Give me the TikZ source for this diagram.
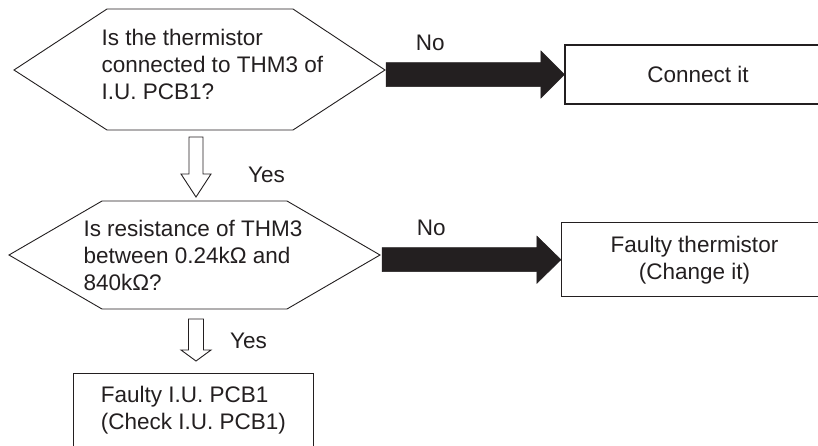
\documentclass[tikz,border=0pt]{standalone}
\usepackage{fontspec}
\setmainfont{Liberation Sans}
\usetikzlibrary{calc}
\definecolor{ink}{HTML}{231F20}
\begin{document}
\begin{tikzpicture}[x=1pt,y=-1pt,
  txt/.style={font=\fontsize{22.5}{27}\selectfont, text=ink, inner sep=0pt},
  hexline/.style={draw=ink, line width=0.9pt, line join=miter},
  box/.style={draw=ink, line width=1.1pt, fill=white, txt},
  bigarrow/.style={fill=ink, draw=ink, line width=0.5pt},
  downarrow/.style={fill=white, draw=ink, line width=0.9pt, line join=miter},
]
\useasboundingbox (0,0) rectangle (818,445);
\clip (0,0) rectangle (818,445);
\fill[white] (0,0) rectangle (818,445);

% first decision
\coordinate (h1l) at (14,70);
\coordinate (h1r) at (385,70);
\coordinate (h1b) at (196,130);
\draw[hexline] (h1l) -- (107,9) -- (293,9) -- (h1r) -- (293,130) -- (107,130) -- cycle;
\node[txt, anchor=base west, align=left] (q1) at (101.5,99)
  {Is the thermistor\\connected to THM3 of\\I.U. PCB1?};

% second decision
\coordinate (h2l) at (9,255);
\coordinate (h2r) at (380,255);
\coordinate (h2t) at (196,201);
\coordinate (h2b) at (196,309);
\draw[hexline] (h2l) -- (102,201) -- (287,201) -- (h2r) -- (287,309) -- (102,309) -- cycle;
\node[txt, anchor=base west, align=left] (q2) at (83.3,290)
  {Is resistance of THM3\\between 0.24kΩ and\\840kΩ?};

% result boxes
\node[box, minimum width=266pt, minimum height=59pt] (c1) at (698,74.5) {Connect it};
\node[box, align=center, minimum width=266pt, minimum height=74pt] (c2) at (694.5,259.7)
  {Faulty thermistor\\(Change it)};
\node[box, align=left, anchor=north, minimum width=240pt, text height=56pt, text depth=20pt] (c3) at (193.3,372.7)
  {Faulty I.U. PCB1\\(Check I.U. PCB1)};

% No arrows
\filldraw[bigarrow] let \p1=(h1r), \p2=(c1.west) in
  (\x1+1pt,\y2+12pt) -- (\x2-23.5pt,\y2+12pt) -- (\x2-23.5pt,\y2+23.5pt) -- (\p2)
  -- (\x2-23.5pt,\y2-23.5pt) -- (\x2-23.5pt,\y2-12pt) -- (\x1+1pt,\y2-12pt) -- cycle;
\filldraw[bigarrow] let \p1=(h2r), \p2=(c2.west) in
  (\x1+2pt,\y2+12pt) -- (\x2-24pt,\y2+12pt) -- (\x2-24pt,\y2+23.5pt) -- (\p2)
  -- (\x2-24pt,\y2-23.5pt) -- (\x2-24pt,\y2-12pt) -- (\x1+2pt,\y2-12pt) -- cycle;
\node[txt, anchor=base west] (n1) at (415.7,50) {No};
\node[txt, anchor=base west] (n2) at (416.7,235) {No};

% Yes arrows
\draw[downarrow] let \p1=(h1b), \p2=(h2t) in
  (\x1-7pt,\y1-7pt) -- (\x1+7pt,\y1-7pt) -- (\x1+7pt,\y2+27pt) -- (\x1+15pt,\y2+27pt)
  -- (\x1,\y2+4pt) -- (\x1-15pt,\y2+27pt) -- (\x1-7pt,\y2+27pt) -- cycle;
\draw[downarrow] let \p1=(h2b), \p2=(c3.north) in
  (\x1-7.5pt,\y1-10pt) -- (\x1+7.5pt,\y1-10pt) -- (\x1+7.5pt,\y2+22.7pt) -- (\x1+15pt,\y2+22.7pt)
  -- (\x1,\y2+11.7pt) -- (\x1-15pt,\y2+22.7pt) -- (\x1-7.5pt,\y2+22.7pt) -- cycle;
\node[txt, anchor=base west] (y1) at (248,182) {Yes};
\node[txt, anchor=base west] (y2) at (230,348) {Yes};
\end{tikzpicture}
\end{document}
